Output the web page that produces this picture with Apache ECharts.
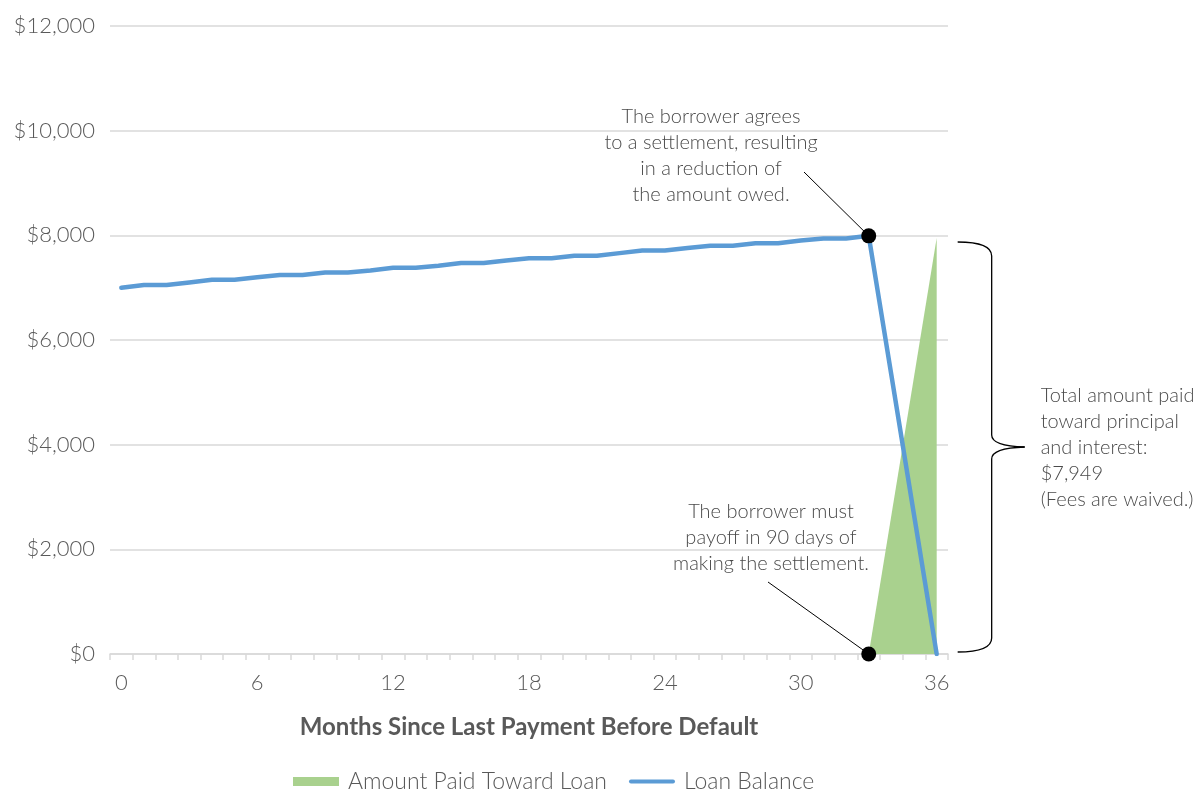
<!DOCTYPE html>
<html>
<head>
<meta charset="utf-8">
<title>Loan Settlement</title>
<script src="https://cdn.jsdelivr.net/npm/echarts@6/dist/echarts.min.js"></script>
<style>
  html, body { margin: 0; padding: 0; background: #ffffff; }
  #chart { width: 1201px; height: 791px; }
</style>
</head>
<body>
<div id="chart"></div>
<script>
// Months 0..36 since the last payment before default
const months = ['0','1','2','3','4','5','6','7','8','9','10','11','12','13','14','15','16','17','18',
  '19','20','21','22','23','24','25','26','27','28','29','30','31','32','33','34','35','36'];

// Outstanding balance each month; settlement at month 33, paid off by month 36
const loanBalance = [7000, 7050, 7050, 7100, 7150, 7150, 7200, 7240, 7240, 7290, 7290, 7330,
  7380, 7380, 7420, 7470, 7470, 7520, 7560, 7560, 7610, 7610, 7660, 7710, 7710, 7760,
  7800, 7800, 7850, 7850, 7900, 7940, 7940, 7990, 5330, 2660, 0];

// Cumulative amount paid toward the loan during the 90-day payoff window
const amountPaid = [null, null, null, null, null, null, null, null, null, null, null, null,
  null, null, null, null, null, null, null, null, null, null, null, null, null, null,
  null, null, null, null, null, null, null, 0, 2650, 5300, 7949];

// Highlighted points: balance at settlement, and start of the payoff
const settlementPoints = [[33, 7990], [33, 0]];
const totalPaid = 7949;

const yTicks = [0, 2000, 4000, 6000, 8000, 10000, 12000];

const GREEN = '#A9D18E';
const BLUE = '#5B9BD5';
const TEXT = '#595959';
const NOTE = '#4a4a4a';
const FONT = 'Lato';

const chart = echarts.init(document.getElementById('chart'), null, { renderer: 'canvas' });

chart.setOption({
  animation: false,
  backgroundColor: '#ffffff',
  textStyle: { fontFamily: FONT, fontWeight: 300, color: TEXT },
  grid: { left: 110, right: 253, top: 26, bottom: 137, containLabel: false },
  legend: {
    top: 765,
    left: 288,
    itemGap: 22,
    itemWidth: 46,
    itemHeight: 9,
    textStyle: { fontFamily: FONT, fontWeight: 300, fontSize: 23, color: TEXT, padding: [0, 0, 0, 4] },
    data: [
      { name: 'Amount Paid Toward Loan', icon: 'rect' },
      { name: 'Loan Balance', icon: 'path://M2,0 L44,0 A2,2 0 0 1 44,4 L2,4 A2,2 0 0 1 2,0 Z' }
    ]
  },
  xAxis: {
    type: 'category',
    data: months,
    boundaryGap: true,
    name: 'Months Since Last Payment Before Default',
    nameLocation: 'middle',
    nameGap: 61,
    nameTextStyle: { fontFamily: FONT, fontWeight: 'bold', fontSize: 24, color: TEXT },
    axisLine: { show: true, lineStyle: { color: '#d9d9d9', width: 1.5 } },
    axisTick: { show: true, interval: 0, length: 6, lineStyle: { color: '#d9d9d9', width: 1.5 } },
    axisLabel: {
      interval: 5,
      margin: 18,
      fontFamily: FONT, fontWeight: 300, fontSize: 22, color: TEXT
    },
    splitLine: { show: false }
  },
  yAxis: {
    type: 'value',
    min: yTicks[0],
    max: yTicks[yTicks.length - 1],
    interval: 2000,
    axisLine: { show: false },
    axisTick: { show: false },
    axisLabel: {
      margin: 15,
      fontFamily: FONT, fontWeight: 300, fontSize: 22, color: TEXT,
      formatter: v => '$' + v.toLocaleString('en-US')
    },
    splitLine: { lineStyle: { color: '#d9d9d9', width: 1.5 } }
  },
  series: [
    {
      name: 'Amount Paid Toward Loan',
      type: 'line',
      data: amountPaid,
      symbol: 'none',
      itemStyle: { color: GREEN },
      lineStyle: { width: 0, color: GREEN },
      areaStyle: { color: GREEN, opacity: 1 },
      z: 2
    },
    {
      name: 'Loan Balance',
      type: 'line',
      data: loanBalance,
      symbol: 'none',
      itemStyle: { color: BLUE },
      lineStyle: { width: 4.5, color: BLUE, cap: 'round', join: 'round' },
      z: 3
    },
    {
      name: 'Settlement',
      type: 'scatter',
      data: settlementPoints,
      symbol: 'circle',
      symbolSize: 15,
      itemStyle: { color: '#000000', opacity: 1 },
      z: 5
    }
  ]
});

// Annotations, leader lines and the bracket are placed from the axes' own scales
const topDot = chart.convertToPixel({ seriesIndex: 2 }, settlementPoints[0]);
const bottomDot = chart.convertToPixel({ seriesIndex: 2 }, settlementPoints[1]);
const bracketTop = chart.convertToPixel({ seriesIndex: 1 }, [36, totalPaid])[1] + 4;
const bracketBottom = chart.convertToPixel({ seriesIndex: 1 }, [36, 0])[1] - 2;
const gridRight = chart.convertToPixel({ seriesIndex: 1 }, [36, 0])[0] + 11;
const bx0 = gridRight + 10, bx1 = gridRight + 44, bx2 = gridRight + 77;
const mid = (bracketTop + bracketBottom) / 2;

const noteFont = '300 20px ' + FONT;
const braceStyle = { stroke: '#000000', lineWidth: 1.3, fill: null };

// Curly brace built from quadratic curves and straight runs
const braceParts = [
  { type: 'bezierCurve', shape: { x1: bx0, y1: bracketTop, cpx1: bx1, cpy1: bracketTop, x2: bx1, y2: bracketTop + 14 } },
  { type: 'line', shape: { x1: bx1, y1: bracketTop + 14, x2: bx1, y2: mid - 12 } },
  { type: 'bezierCurve', shape: { x1: bx1, y1: mid - 12, cpx1: bx1, cpy1: mid - 1, x2: bx2, y2: mid } },
  { type: 'bezierCurve', shape: { x1: bx2, y1: mid, cpx1: bx1, cpy1: mid + 1, x2: bx1, y2: mid + 12 } },
  { type: 'line', shape: { x1: bx1, y1: mid + 12, x2: bx1, y2: bracketBottom - 14 } },
  { type: 'bezierCurve', shape: { x1: bx1, y1: bracketBottom - 14, cpx1: bx1, cpy1: bracketBottom, x2: bx0, y2: bracketBottom } }
].map(p => Object.assign(p, { z: 10, style: braceStyle }));

chart.setOption({
  graphic: [
    {
      type: 'text', z: 10,
      style: {
        text: 'The borrower agrees\nto a settlement, resulting\nin a reduction of\nthe amount owed.',
        x: 711, y: 104, textAlign: 'center', textVerticalAlign: 'top',
        font: noteFont, lineHeight: 26, fill: NOTE
      }
    },
    {
      type: 'line', z: 4,
      shape: { x1: 804, y1: 172, x2: topDot[0], y2: topDot[1] },
      style: { stroke: '#000000', lineWidth: 1 }
    },
    {
      type: 'text', z: 10,
      style: {
        text: 'The borrower must\npayoff in 90 days of\nmaking the settlement.',
        x: 771, y: 499, textAlign: 'center', textVerticalAlign: 'top',
        font: noteFont, lineHeight: 26, fill: NOTE
      }
    },
    {
      type: 'line', z: 4,
      shape: { x1: 768, y1: 582, x2: bottomDot[0], y2: bottomDot[1] },
      style: { stroke: '#000000', lineWidth: 1 }
    },
    ...braceParts,
    {
      type: 'text', z: 10,
      style: {
        text: 'Total amount paid\ntoward principal\nand interest:\n$' + totalPaid.toLocaleString('en-US') + '\n(Fees are waived.)',
        x: bx2 + 16, y: mid - 64, textAlign: 'left', textVerticalAlign: 'top',
        font: noteFont, lineHeight: 26, fill: NOTE
      }
    }
  ]
});
</script>
</body>
</html>
